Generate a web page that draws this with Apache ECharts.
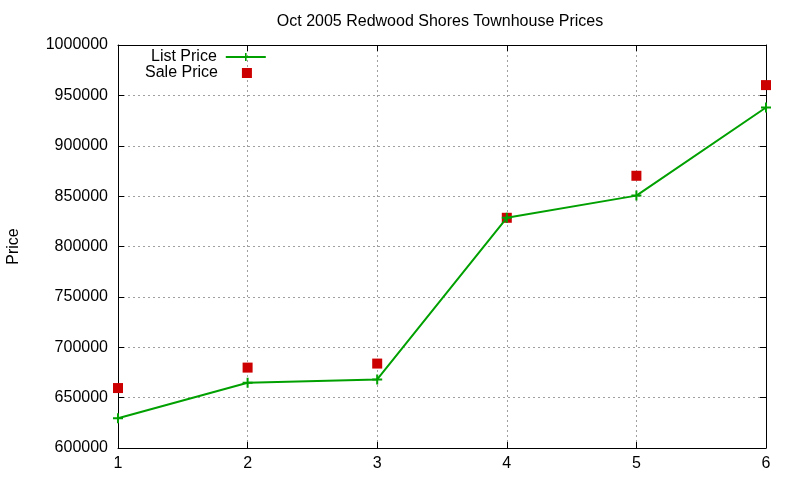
<!DOCTYPE html>
<html>
<head>
<meta charset="utf-8">
<script src="https://cdn.jsdelivr.net/npm/echarts@6/dist/echarts.min.js"></script>
<style>
  html, body { margin: 0; padding: 0; background: #fff; }
  #chart { width: 800px; height: 480px; }
</style>
</head>
<body>
<div id="chart"></div>
<script>
// values
const xValues = [1, 2, 3, 4, 5, 6];
const listPrice = [629500, 664800, 668000, 828500, 850500, 938000];
const salePrice = [659500, 679800, 683800, 828500, 870200, 960200];

const font = 'Liberation Sans, Arial, sans-serif';
const plus = 'path://M4,0H6V4H10V6H6V10H4V6H0V4H4Z';

const chart = echarts.init(document.getElementById('chart'));

const gridLine = { show: true, lineStyle: { color: '#a0a0a0', type: [2, 3], width: 1 } };

const option = {
    animation: false,
    title: {
        text: 'Oct 2005 Redwood Shores Townhouse Prices',
        left: 440, top: 14, padding: 0, textAlign: 'center',
        textStyle: { fontFamily: font, fontSize: 16, fontWeight: 'normal', color: '#000' }
    },
    legend: [{
        data: ['List Price'],
        left: 151, top: 49, padding: 0, align: 'right', itemWidth: 40, itemHeight: 10,
        textStyle: { fontFamily: font, fontSize: 16, color: '#000', padding: [0, 4, 0, 0] }
    }, {
        data: [{ name: 'Sale Price', icon: 'rect' }],
        left: 145, top: 65, padding: 0, align: 'right', itemWidth: 10, itemHeight: 10,
        textStyle: { fontFamily: font, fontSize: 16, color: '#000', padding: [0, 19, 0, 0] }
    }],
    grid: { left: 118, right: 34, top: 45, bottom: 32, outerBoundsMode: 'none', containLabel: false },
    xAxis: [{
        type: 'value', min: 1, max: 6, interval: 1,
        axisLine: { lineStyle: { color: '#000', width: 1 } },
        axisTick: { inside: true, length: 6, lineStyle: { color: '#000' } },
        axisLabel: { fontFamily: font, fontSize: 16, color: '#000', margin: 8 },
        splitLine: gridLine
    }, {
        type: 'value', min: 1, max: 6, interval: 1, position: 'top',
        axisLine: { show: true, lineStyle: { color: '#000', width: 1 } },
        axisTick: { inside: true, length: 6, lineStyle: { color: '#000' } },
        axisLabel: { show: false }, splitLine: { show: false }
    }],
    yAxis: [{
        type: 'value', min: 600000, max: 1000000, interval: 50000,
        name: 'Price', nameLocation: 'middle', nameGap: 96, nameRotate: 90,
        nameTextStyle: { fontFamily: font, fontSize: 16, color: '#000' },
        axisLine: { show: true, lineStyle: { color: '#000', width: 1 } },
        axisTick: { inside: true, length: 6, lineStyle: { color: '#000' } },
        axisLabel: { fontFamily: font, fontSize: 16, color: '#000', margin: 10,
                     formatter: v => String(v) },
        splitLine: gridLine
    }, {
        type: 'value', min: 600000, max: 1000000, interval: 50000, position: 'right',
        axisLine: { show: true, lineStyle: { color: '#000', width: 1 } },
        axisTick: { inside: true, length: 6, lineStyle: { color: '#000' } },
        axisLabel: { show: false }, splitLine: { show: false }
    }],
    series: [{
        name: 'List Price',
        type: 'line',
        data: xValues.map((x, i) => [x, listPrice[i]]),
        symbol: plus, symbolSize: 10,
        color: '#00a000',
        lineStyle: { color: '#00a000', width: 2 },
        itemStyle: { color: '#00a000' }
    }, {
        name: 'Sale Price',
        type: 'scatter',
        data: xValues.map((x, i) => [x, salePrice[i]]),
        symbol: 'rect', symbolSize: 10,
        color: '#cc0000',
        itemStyle: { color: '#cc0000', opacity: 1 }
    }]
};

chart.setOption(option);
</script>
</body>
</html>
